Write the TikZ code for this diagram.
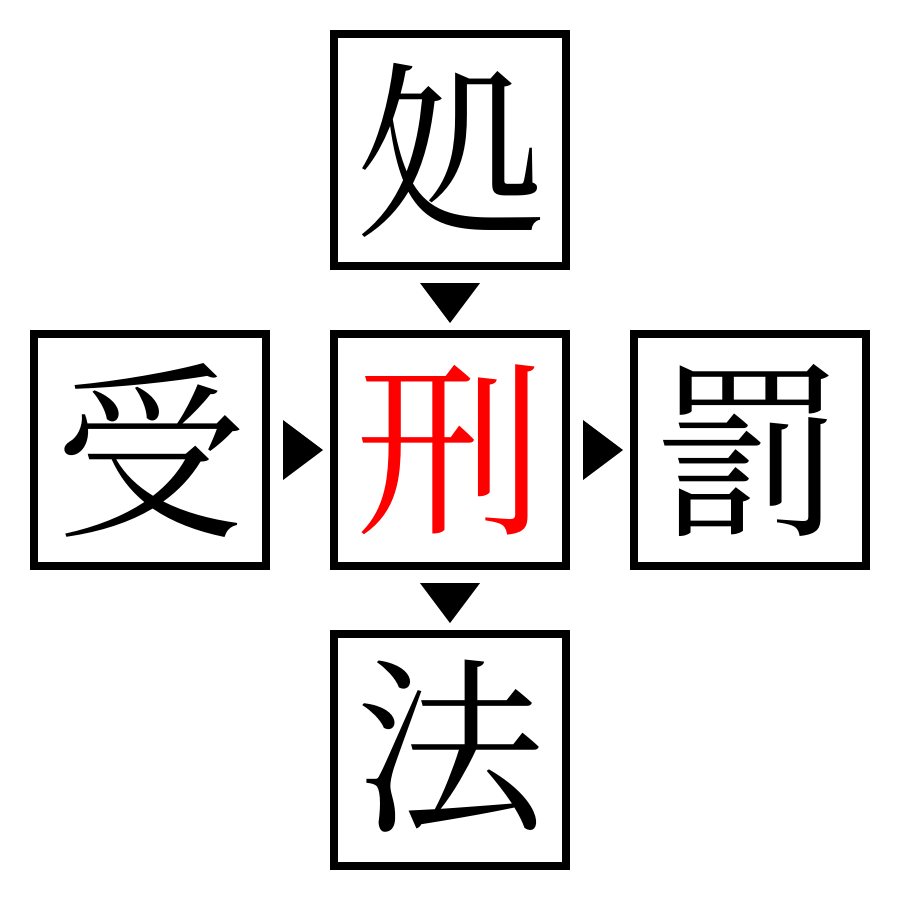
\documentclass[tikz,border=0pt]{standalone}
\usepackage{fontspec}
\newfontfamily\cjk{Noto Serif CJK JP}[Scale=1]
\usetikzlibrary{calc}
\begin{document}
\begin{tikzpicture}[x=1pt,y=-1pt,
  box/.style={draw,line width=8pt,minimum size=232pt,inner sep=0pt,font=\fontsize{190}{190}\selectfont\cjk},
  tri/.style={fill=black}]
\useasboundingbox (0,0) rectangle (900,900);
\node[box] (top) at (450,150) {処};
\node[box] (mid) at (450,450) {\textcolor{red}{刑}};
\node[box] (left) at (150,450) {受};
\node[box] (right) at (750,450) {罰};
\node[box] (bot) at (450,750) {法};
\fill[tri] ($(top.south)+(-30,13)$) -- ($(top.south)+(30,13)$) -- ($(top.south)+(0,53)$) -- cycle;
\fill[tri] ($(mid.south)+(-30,13)$) -- ($(mid.south)+(30,13)$) -- ($(mid.south)+(0,53)$) -- cycle;
\fill[tri] ($(left.east)+(13,-30)$) -- ($(left.east)+(13,30)$) -- ($(left.east)+(53,0)$) -- cycle;
\fill[tri] ($(mid.east)+(13,-30)$) -- ($(mid.east)+(13,30)$) -- ($(mid.east)+(53,0)$) -- cycle;
\end{tikzpicture}
\end{document}
